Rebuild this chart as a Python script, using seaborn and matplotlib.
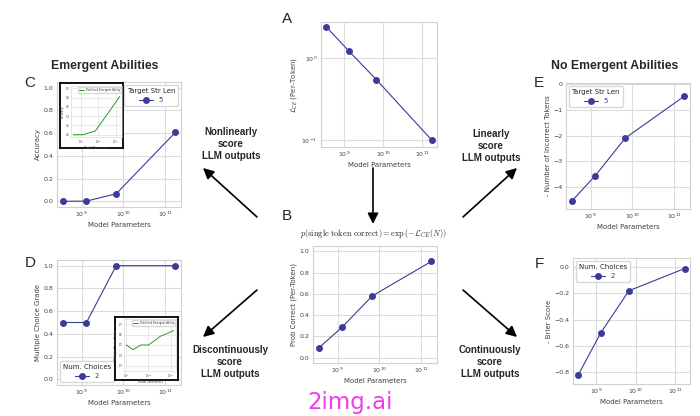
import numpy as np
import pandas as pd
import seaborn as sns
import matplotlib
matplotlib.use('Agg')
import matplotlib.pyplot as plt
from matplotlib.patches import FancyArrowPatch
from matplotlib.ticker import NullFormatter, MultipleLocator

# model sizes (x axis for every panel)
params = [3.5e8, 1.3e9, 6.7e9, 1.75e11]

ce_loss = [2.4, 1.23, 0.545, 0.10]          # A
prob_correct = [0.09, 0.29, 0.58, 0.905]    # B
accuracy = [0.0, 0.002, 0.066, 0.607]       # C
mc_grade = [0.5, 0.5, 1.0, 1.0]             # D
neg_incorrect = [-4.55, -3.55, -2.1, -0.47] # E
neg_brier = [-0.82, -0.5, -0.18, -0.01]     # F

# published curves shown in the insets
inset_c_params = [3.5e8, 1.3e9, 6.7e9, 1.75e11]
inset_c_acc = [0.0, 0.0, 0.08, 0.82]
inset_d_params = [1e9, 2e9, 4.5e9, 1e10, 3.5e10, 7e10, 1.37e11]
inset_d_grade = [0.5, 0.455, 0.5, 0.5, 0.585, 0.61, 0.64]

line_color = '#3b3b98'
green = '#22a022'

sns.set_theme(style='whitegrid')
plt.rcParams['font.family'] = ['DejaVu Sans']
plt.rcParams.update({
    'axes.edgecolor': '0.82', 'axes.linewidth': 0.8,
    'grid.color': '0.86', 'grid.linewidth': 0.8,
    'xtick.labelsize': 4.5, 'ytick.labelsize': 4.5,
    'axes.labelsize': 5, 'axes.labelcolor': '0.25',
    'xtick.color': '0.25', 'ytick.color': '0.25',
    'xtick.major.size': 0, 'ytick.major.size': 0,
    'xtick.minor.size': 0, 'ytick.minor.size': 0,
    'xtick.major.pad': 2, 'ytick.major.pad': 2.5,
    'axes.labelpad': 2,
    'legend.fontsize': 5, 'legend.title_fontsize': 5,
})

W, H = 700, 416
fig = plt.figure(figsize=(7, 4.16), dpi=100)


def box(l, t, r, b):
    return [l / W, 1 - b / H, (r - l) / W, (b - t) / H]


def pt(x, y):
    return (x / W, 1 - y / H)


def panel(rect, y, ylabel, ylim=None, legend=None, loc=None, logy=False):
    ax = fig.add_axes(box(*rect))
    ax.set_xscale('log')
    if logy:
        ax.set_yscale('log')
    lab = legend[1] if legend else None
    sns.lineplot(x=params, y=y, ax=ax, color=line_color, marker='o',
                 markersize=5, markeredgewidth=0, linewidth=0.8, label=lab,
                 legend=bool(legend))
    ax.xaxis.set_minor_formatter(NullFormatter())
    ax.yaxis.set_minor_formatter(NullFormatter())
    if ylim:
        ax.set_ylim(*ylim)
    ax.set_xlabel('Model Parameters')
    ax.set_ylabel(ylabel)
    if legend:
        ax.legend(title=legend[0], loc=loc, labelcolor='linecolor',
                  borderaxespad=0.4, handlelength=2, framealpha=1,
                  edgecolor='0.85')
    return ax


axA = panel((321, 22, 437, 147), ce_loss, r'$\mathcal{L}_{CE}$ (Per-Token)',
            ylim=(10 ** -1.085, 10 ** 0.44), logy=True)
axB = panel((313, 246, 437, 363), prob_correct, 'Prob Correct (Per-Token)',
            ylim=(-0.05, 1.05))
axC = panel((57, 82, 181, 207), accuracy, 'Accuracy', ylim=(-0.05, 1.05),
            legend=('Target Str Len', '5'), loc='upper right')
axD = panel((57, 260, 181, 385), mc_grade, 'Multiple Choice Grade',
            ylim=(-0.05, 1.05), legend=('Num. Choices', '2'), loc='lower left')
axE = panel((566, 83, 690, 209), neg_incorrect, '- Number of Incorrect Tokens',
            ylim=(-4.85, 0.04), legend=('Target Str Len', '5'), loc='upper left')
axF = panel((573, 258, 690, 384), neg_brier, '- Brier Score',
            ylim=(-0.89, 0.07), legend=('Num. Choices', '2'), loc='upper left')
for ax in (axB, axC, axD):
    ax.yaxis.set_major_locator(MultipleLocator(0.2))


def inset(outer, inner, x, y, ylabel, ylim, step):
    ax_o = fig.add_axes(box(*outer))
    ax_o.set_facecolor('white')
    ax_o.grid(False)
    ax_o.set_xticks([])
    ax_o.set_yticks([])
    for s in ax_o.spines.values():
        s.set_color('black')
        s.set_linewidth(1.3)
    ax_o.set_zorder(5)
    ax_i = fig.add_axes(box(*inner))
    ax_i.set_zorder(6)
    ax_i.set_xscale('log')
    sns.lineplot(x=x, y=y, ax=ax_i, color=green, linewidth=0.7,
                 label='Published Emergent Ability')
    ax_i.set_ylim(*ylim)
    ax_i.yaxis.set_major_locator(MultipleLocator(step))
    ax_i.xaxis.set_minor_formatter(NullFormatter())
    ax_i.tick_params(labelsize=1.8, pad=0.8)
    for s in ax_i.spines.values():
        s.set_linewidth(0.4)
    ax_i.grid(linewidth=0.4)
    ax_i.set_xlabel('Model Parameters', fontsize=2, labelpad=0.5)
    ax_i.set_ylabel(ylabel, fontsize=2, labelpad=0.5)
    ax_i.legend(loc='upper right', fontsize=1.8, handlelength=2,
                borderaxespad=0.3, framealpha=1, edgecolor='0.85')


inset((60, 83, 123, 148), (71, 86, 122, 137), inset_c_params, inset_c_acc,
      'Accuracy', (-0.05, 1.05), 0.2)
inset((115, 317, 178, 380), (124, 319, 176, 371), inset_d_params, inset_d_grade,
      'Multiple Choice Grade', (0.25, 0.75), 0.1)

# headings and panel letters
bold = dict(family=['Liberation Sans', 'DejaVu Sans'], fontweight='bold')
fig.text(*pt(105, 66), 'Emergent Abilities', ha='center', va='center',
         fontsize=8.8, **bold)
fig.text(*pt(615, 66), 'No Emergent Abilities', ha='center', va='center',
         fontsize=8.8, **bold)
for letter, (x, y) in {'A': (287, 19), 'B': (287, 216), 'C': (30, 83),
                       'D': (30, 263), 'E': (539, 83), 'F': (539, 264)}.items():
    fig.text(*pt(x, y), letter, ha='center', va='center', fontsize=11,
             family=['Liberation Sans', 'DejaVu Sans'])

fig.text(*pt(374, 233),
         r'$p(\mathrm{single\ token\ correct}) = \exp\left(-\mathcal{L}_{CE}(N)\right)$',
         ha='center', va='center', fontsize=6, math_fontfamily='cm')

# arrows with their captions
captions = {
    'Nonlinearly\nscore\nLLM outputs': (231, 144),
    'Linearly\nscore\nLLM outputs': (491, 146),
    'Discontinuously\nscore\nLLM outputs': (230, 362),
    'Continuously\nscore\nLLM outputs': (490, 362),
}
for txt, (x, y) in captions.items():
    fig.text(*pt(x, y), txt, ha='center', va='center', fontsize=7,
             linespacing=1.3, **bold)

arrows = [((373, 168), (373, 224)),
          ((257, 217), (203, 168)),
          ((463, 217), (517, 168)),
          ((257, 290), (203, 337)),
          ((463, 290), (517, 337))]
for tail, tip in arrows:
    fig.add_artist(FancyArrowPatch(pt(*tail), pt(*tip), transform=fig.transFigure,
                                   arrowstyle='-|>', mutation_scale=16,
                                   linewidth=1.2, color='black',
                                   shrinkA=0, shrinkB=0))

fig.text(*pt(350, 403), '2img.ai', ha='center', va='center', fontsize=16.5,
         color='#f03ce6')

fig.savefig('out.png', dpi=100)
